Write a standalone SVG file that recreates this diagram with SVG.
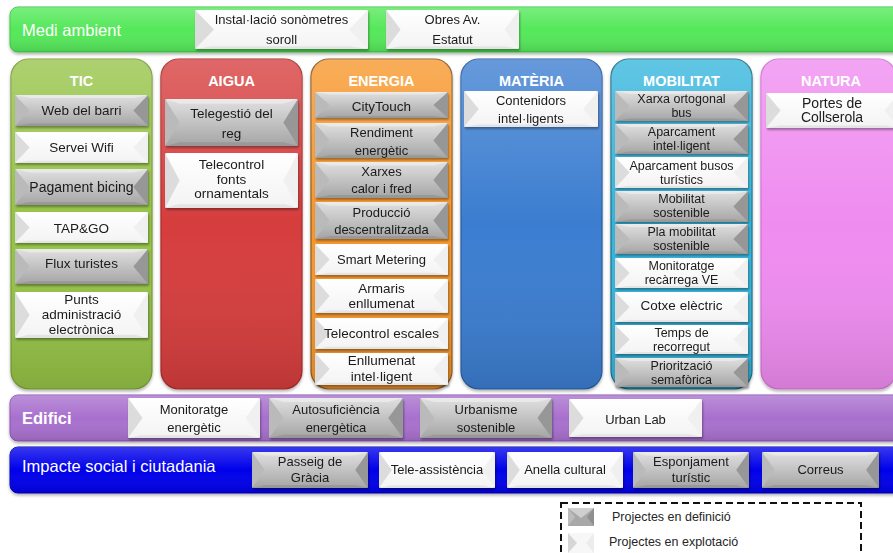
<svg xmlns="http://www.w3.org/2000/svg" width="893" height="553" viewBox="0 0 893 553">
<defs>
<style>
.t{font-family:"Liberation Sans",Arial,sans-serif;font-size:13.5px;fill:#1a1a1a;text-anchor:middle}
.s13{font-size:13px}
.s14{font-size:14px}
.sm{font-size:12.5px}
.hd{font-family:"Liberation Sans",Arial,sans-serif;font-size:14.5px;font-weight:bold;fill:#fff;text-anchor:middle}
.bt{font-family:"Liberation Sans",Arial,sans-serif;font-size:16.5px;fill:#fff}
.lg{font-family:"Liberation Sans",Arial,sans-serif;font-size:12.5px;fill:#262626}
.col{stroke-width:1.2}
.box{filter:url(#sh)}
</style>
<filter id="sh" x="-10%" y="-10%" width="130%" height="140%">
<feDropShadow dx="1" dy="2" stdDeviation="1.2" flood-color="#000" flood-opacity="0.35"/>
</filter>
<filter id="shb" x="-5%" y="-5%" width="110%" height="120%">
<feDropShadow dx="0" dy="2" stdDeviation="1.5" flood-color="#000" flood-opacity="0.3"/>
</filter>
<linearGradient id="ov" x1="0" y1="0" x2="0" y2="1">
<stop offset="0" stop-color="#fff" stop-opacity="0.22"/>
<stop offset="0.5" stop-color="#fff" stop-opacity="0"/>
<stop offset="1" stop-color="#000" stop-opacity="0.12"/>
</linearGradient>
<linearGradient id="gGray" x1="0" y1="0" x2="0" y2="1">
<stop offset="0" stop-color="#e0e0e0"/>
<stop offset="1" stop-color="#a5a5a5"/>
</linearGradient>
<linearGradient id="gWhite" x1="0" y1="0" x2="0" y2="1">
<stop offset="0" stop-color="#ffffff"/>
<stop offset="1" stop-color="#f3f3f3"/>
</linearGradient>
<symbol id="def" viewBox="0 0 100 100" preserveAspectRatio="none">
<rect width="100" height="100" rx="2" fill="url(#gGray)"/>
<polygon points="0,0 100,0 89,10 11,10" fill="#f2f2f2" opacity="0.6"/>
<polygon points="0,0 11,50 0,100" fill="#bababa"/>
<polygon points="100,0 100,100 89,50" fill="#979797"/>
<polygon points="0,100 100,100 89,92 11,92" fill="#8a8a8a" opacity="0.5"/>
</symbol>
<symbol id="exp" viewBox="0 0 100 100" preserveAspectRatio="none">
<rect width="100" height="100" rx="2" fill="url(#gWhite)"/>
<polygon points="0,0 11,50 0,100" fill="#dcdcdc"/>
<polygon points="100,0 100,100 89,50" fill="#f0f0f0"/>
<polygon points="0,100 100,100 90,93 10,93" fill="#d8d8d8" opacity="0.6"/>
</symbol>
</defs>

<rect width="893" height="553" fill="#fff"/>

<!-- Top bar -->
<g id="medi-ambient">
<rect x="10" y="7" width="900" height="45" rx="8" fill="#55e85a" stroke="#3fc444" filter="url(#shb)"/>
<rect x="10" y="7" width="900" height="45" rx="8" fill="url(#ov)"/>
<text class="bt" x="22" y="36">Medi ambient</text>
</g>
<g id="m1" class="box"><use href="#exp" x="195" y="10" width="173" height="39"/><text class="t s13" x="281.5" y="23.5">Instal·lació sonòmetres</text><text class="t s13" x="281.5" y="43.5">soroll</text></g>
<g id="m2" class="box"><use href="#exp" x="386" y="10" width="133" height="39"/><text class="t s13" x="452.5" y="23.5">Obres Av.</text><text class="t s13" x="452.5" y="43.5">Estatut</text></g>

<!-- Columns -->
<g id="col-tic">
<rect class="col" x="11" y="59" width="141" height="330" rx="18" fill="#95c347" stroke="#7a9a36" filter="url(#shb)"/>
<rect x="11" y="59" width="141" height="330" rx="18" fill="url(#ov)"/>
<text class="hd" x="81.5" y="86">TIC</text>
</g>
<g id="col-aigua">
<rect class="col" x="161" y="59" width="141" height="330" rx="18" fill="#d63c3c" stroke="#a82a2a" filter="url(#shb)"/>
<rect x="161" y="59" width="141" height="330" rx="18" fill="url(#ov)"/>
<text class="hd" x="231.5" y="86">AIGUA</text>
</g>
<g id="col-energia">
<rect class="col" x="311" y="59" width="141" height="330" rx="18" fill="#f7962c" stroke="#8a5a20" filter="url(#shb)"/>
<rect x="311" y="59" width="141" height="330" rx="18" fill="url(#ov)"/>
<text class="hd" x="381.5" y="86">ENERGIA</text>
</g>
<g id="col-materia">
<rect class="col" x="461" y="59" width="141" height="330" rx="18" fill="#3b7dd0" stroke="#2a5c9e" filter="url(#shb)"/>
<rect x="461" y="59" width="141" height="330" rx="18" fill="url(#ov)"/>
<text class="hd" x="531.5" y="86">MATÈRIA</text>
</g>
<g id="col-mobilitat">
<rect class="col" x="611" y="59" width="141" height="330" rx="18" fill="#36b5dc" stroke="#1f6f86" filter="url(#shb)"/>
<rect x="611" y="59" width="141" height="330" rx="18" fill="url(#ov)"/>
<text class="hd" x="681.5" y="86">MOBILITAT</text>
</g>
<g id="col-natura">
<rect class="col" x="761" y="59" width="135" height="330" rx="18" fill="#ef8cf0" stroke="#d070d2" filter="url(#shb)"/>
<rect x="761" y="59" width="135" height="330" rx="18" fill="url(#ov)"/>
<text class="hd" x="831" y="86">NATURA</text>
</g>

<!-- TIC -->
<g id="tic1" class="box"><use href="#def" x="15" y="95" width="133" height="31"/><text class="t" x="81.5" y="115">Web del barri</text></g>
<g id="tic2" class="box"><use href="#exp" x="15" y="132" width="133" height="31"/><text class="t" x="81.5" y="152">Servei Wifi</text></g>
<g id="tic3" class="box"><use href="#def" x="15" y="169" width="133" height="36"/><text class="t s14" x="81.5" y="192">Pagament bicing</text></g>
<g id="tic4" class="box"><use href="#exp" x="15" y="212" width="133" height="31"/><text class="t" x="81.5" y="232.5">TAP&amp;GO</text></g>
<g id="tic5" class="box"><use href="#def" x="15" y="249" width="133" height="35"/><text class="t" x="81.5" y="268">Flux turistes</text></g>
<g id="tic6" class="box"><use href="#exp" x="15" y="292" width="133" height="46"/><text class="t" x="81.5" y="303.5">Punts</text><text class="t" x="81.5" y="318.5">administració</text><text class="t" x="81.5" y="333.5">electrònica</text></g>

<!-- AIGUA -->
<g id="aig1" class="box"><use href="#def" x="165" y="99" width="133" height="47"/><text class="t" x="231.5" y="117.5">Telegestió del</text><text class="t" x="231.5" y="137.5">reg</text></g>
<g id="aig2" class="box"><use href="#exp" x="165" y="153" width="133" height="55"/><text class="t" x="231.5" y="168.5">Telecontrol</text><text class="t" x="231.5" y="183.5">fonts</text><text class="t" x="231.5" y="198">ornamentals</text></g>

<!-- ENERGIA -->
<g id="ene1" class="box"><use href="#def" x="315" y="92" width="133" height="26"/><text class="t" x="381.5" y="111">CityTouch</text></g>
<g id="ene2" class="box"><use href="#def" x="315" y="123" width="133" height="35"/><text class="t s13" x="381.5" y="136.5">Rendiment</text><text class="t s13" x="381.5" y="154.5">energètic</text></g>
<g id="ene3" class="box"><use href="#def" x="315" y="162" width="133" height="36"/><text class="t s13" x="381.5" y="175.5">Xarxes</text><text class="t s13" x="381.5" y="192.5">calor i fred</text></g>
<g id="ene4" class="box"><use href="#def" x="315" y="202" width="133" height="37"/><text class="t s13" x="381.5" y="216.5">Producció</text><text class="t s13" x="381.5" y="233.5">descentralitzada</text></g>
<g id="ene5" class="box"><use href="#exp" x="315" y="244" width="133" height="31"/><text class="t s13" x="381.5" y="263.5">Smart Metering</text></g>
<g id="ene6" class="box"><use href="#exp" x="315" y="279" width="133" height="34"/><text class="t" x="381.5" y="292.5">Armaris</text><text class="t" x="381.5" y="307.5">enllumenat</text></g>
<g id="ene7" class="box"><use href="#exp" x="315" y="318" width="133" height="31"/><text class="t" x="381.5" y="337.5">Telecontrol escales</text></g>
<g id="ene8" class="box"><use href="#exp" x="315" y="353" width="133" height="32"/><text class="t" x="381.5" y="365">Enllumenat</text><text class="t" x="381.5" y="380.5">intel·ligent</text></g>

<!-- MATERIA -->
<g id="mat1" class="box"><use href="#exp" x="464" y="91" width="134" height="36"/><text class="t s13" x="531" y="104.5">Contenidors</text><text class="t s13" x="531" y="122.5">intel·ligents</text></g>

<!-- MOBILITAT -->
<g id="mob1" class="box"><use href="#def" x="615" y="91" width="133" height="30"/><text class="t sm" x="681.5" y="103">Xarxa ortogonal</text><text class="t sm" x="681.5" y="117">bus</text></g>
<g id="mob2" class="box"><use href="#def" x="615" y="124" width="133" height="30"/><text class="t sm" x="681.5" y="136">Aparcament</text><text class="t sm" x="681.5" y="150">intel·ligent</text></g>
<g id="mob3" class="box"><use href="#exp" x="615" y="157" width="133" height="31"/><text class="t sm" x="681.5" y="169.5">Aparcament busos</text><text class="t sm" x="681.5" y="183.5">turístics</text></g>
<g id="mob4" class="box"><use href="#def" x="615" y="191" width="133" height="31"/><text class="t sm" x="681.5" y="203">Mobilitat</text><text class="t sm" x="681.5" y="217">sostenible</text></g>
<g id="mob5" class="box"><use href="#def" x="615" y="224" width="133" height="30"/><text class="t sm" x="681.5" y="236">Pla mobilitat</text><text class="t sm" x="681.5" y="250">sostenible</text></g>
<g id="mob6" class="box"><use href="#exp" x="615" y="258" width="133" height="30"/><text class="t sm" x="681.5" y="270">Monitoratge</text><text class="t sm" x="681.5" y="284">recàrrega VE</text></g>
<g id="mob7" class="box"><use href="#exp" x="615" y="292" width="133" height="30"/><text class="t" x="681.5" y="309.5">Cotxe elèctric</text></g>
<g id="mob8" class="box"><use href="#exp" x="615" y="325" width="133" height="29"/><text class="t sm" x="681.5" y="337">Temps de</text><text class="t sm" x="681.5" y="351">recorregut</text></g>
<g id="mob9" class="box"><use href="#def" x="615" y="358" width="133" height="29"/><text class="t sm" x="681.5" y="370">Priorització</text><text class="t sm" x="681.5" y="384">semafòrica</text></g>

<!-- NATURA -->
<g id="nat1" class="box"><use href="#exp" x="766" y="93" width="133" height="35"/><text class="t s14" x="832" y="107.5">Portes de</text><text class="t s14" x="832" y="122">Collserola</text></g>

<!-- Edifici -->
<g id="edifici">
<rect x="10" y="395" width="900" height="46" rx="8" fill="#a86fce" stroke="#8a52b0" filter="url(#shb)"/>
<rect x="10" y="395" width="900" height="46" rx="8" fill="url(#ov)"/>
<text class="bt" x="22" y="424" font-weight="bold">Edifici</text>
</g>
<g id="ed1" class="box"><use href="#exp" x="128" y="398" width="132" height="40"/><text class="t s13" x="194" y="413.5">Monitoratge</text><text class="t s13" x="194" y="432">energètic</text></g>
<g id="ed2" class="box"><use href="#def" x="269" y="398" width="134" height="40"/><text class="t s13" x="336" y="413.5">Autosuficiència</text><text class="t s13" x="336" y="432">energètica</text></g>
<g id="ed3" class="box"><use href="#def" x="420" y="398" width="132" height="40"/><text class="t s13" x="486" y="413.5">Urbanisme</text><text class="t s13" x="486" y="432">sostenible</text></g>
<g id="ed4" class="box"><use href="#exp" x="569" y="399" width="133" height="38"/><text class="t s13" x="635.5" y="423.5">Urban Lab</text></g>

<!-- Impacte social -->
<g id="impacte">
<rect x="10" y="447" width="900" height="46" rx="8" fill="#0505ea" stroke="#0000b0" filter="url(#shb)"/>
<rect x="10" y="447" width="900" height="46" rx="8" fill="url(#ov)"/>
<text class="bt" x="22" y="472">Impacte social i ciutadania</text>
</g>
<g id="im1" class="box"><use href="#def" x="252" y="452" width="116" height="36"/><text class="t s13" x="310" y="466">Passeig de</text><text class="t s13" x="310" y="482">Gràcia</text></g>
<g id="im2" class="box"><use href="#exp" x="379" y="452" width="116" height="36"/><text class="t s13" x="437" y="473.5">Tele-assistència</text></g>
<g id="im3" class="box"><use href="#exp" x="507" y="452" width="116" height="36"/><text class="t s13" x="565" y="473.5">Anella cultural</text></g>
<g id="im4" class="box"><use href="#def" x="633" y="452" width="116" height="36"/><text class="t s13" x="691" y="466">Esponjament</text><text class="t s13" x="691" y="482">turístic</text></g>
<g id="im5" class="box"><use href="#def" x="762" y="452" width="117" height="36"/><text class="t s13" x="820.5" y="473.5">Correus</text></g>

<!-- Legend -->
<g id="legend">
<rect x="561" y="503" width="300" height="60" fill="none" stroke="#111" stroke-width="2" stroke-dasharray="7,4"/>
<rect x="568" y="508" width="26" height="18" fill="#a8a8a8"/>
<polygon points="568,508 594,508 581,518" fill="#cfcfcf"/>
<polygon points="568,508 575,517 568,526" fill="#bcbcbc"/>
<polygon points="594,508 594,526 587,517" fill="#8f8f8f"/>
<rect x="568" y="533" width="26" height="22" fill="#f7f7f7"/>
<polygon points="568,533 577,543 568,553" fill="#d6d6d6"/>
<polygon points="594,533 594,553 586,543" fill="#ececec"/>
<text class="lg" x="612" y="521">Projectes en definició</text>
<text class="lg" x="609" y="546">Projectes en explotació</text>
</g>
</svg>
